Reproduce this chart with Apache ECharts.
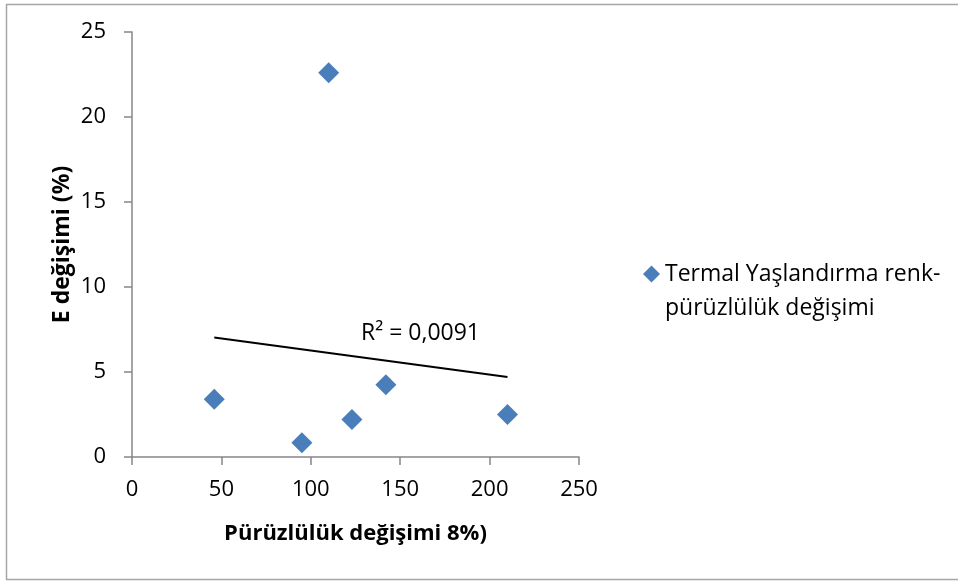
<!DOCTYPE html>
<html><head><meta charset="utf-8">
<script src="https://cdn.jsdelivr.net/npm/echarts@6/dist/echarts.min.js"></script>
<style>html,body{margin:0;padding:0;background:#fff}#c{width:958px;height:583px}</style>
</head><body><div id="c"></div>
<script>
const seriesName = 'Termal Yaşlandırma renk-\npürüzlülük değişimi';
const xValues = [46, 95, 110, 123, 142, 210];
const yValues = [3.4, 0.84, 22.6, 2.2, 4.25, 2.5];
const xTicks = [0, 50, 100, 150, 200, 250];
const yTicks = [0, 5, 10, 15, 20, 25];
const xTitle = 'Pürüzlülük değişimi 8%)';
const yTitle = 'E değişimi (%)';
const r2Label = 'R² = 0,0091';

const pts = xValues.map((x, i) => [x, yValues[i]]);
const n = xValues.length;
const mx = xValues.reduce((a, b) => a + b, 0) / n;
const my = yValues.reduce((a, b) => a + b, 0) / n;
let sxy = 0, sxx = 0;
for (let i = 0; i < n; i++) { sxy += (xValues[i] - mx) * (yValues[i] - my); sxx += (xValues[i] - mx) ** 2; }
const slope = sxy / sxx, icpt = my - slope * mx;
const x0 = Math.min(...xValues), x1 = Math.max(...xValues);
const trend = [[x0, icpt + slope * x0], [x1, icpt + slope * x1]];

const FONT = 'Open Sans';
const axisCol = '#868686';
const chart = echarts.init(document.getElementById('c'), null, { renderer: 'canvas' });
chart.setOption({
  animation: false,
  backgroundColor: '#fff',
  textStyle: { fontFamily: FONT },
  grid: { left: 132, right: 379, top: 32, height: 425, containLabel: false },
  xAxis: {
    type: 'value', min: xTicks[0], max: xTicks[xTicks.length - 1], interval: xTicks[1] - xTicks[0],
    name: xTitle, nameLocation: 'middle', nameGap: 66,
    nameTextStyle: { fontFamily: FONT, fontSize: 22, fontWeight: 'bold', color: '#000' },
    axisLine: { show: true, lineStyle: { color: axisCol, width: 1.5 } },
    axisTick: { show: true, length: 8, lineStyle: { color: axisCol, width: 1.5 } },
    axisLabel: { margin: 22, fontSize: 22, color: '#000', fontFamily: FONT },
    splitLine: { show: false }
  },
  yAxis: {
    type: 'value', min: yTicks[0], max: yTicks[yTicks.length - 1], interval: yTicks[1] - yTicks[0],
    name: yTitle, nameLocation: 'middle', nameGap: 58, nameRotate: 90,
    nameTextStyle: { fontFamily: FONT, fontSize: 23, fontWeight: 'bold', color: '#000' },
    axisLine: { show: true, lineStyle: { color: axisCol, width: 1.5 } },
    axisTick: { show: true, length: 8, lineStyle: { color: axisCol, width: 1.5 } },
    axisLabel: { margin: 26, fontSize: 22, color: '#000', fontFamily: FONT },
    splitLine: { show: false }
  },
  legend: {
    show: true, orient: 'vertical', left: 638, top: 218,
    data: [{ name: seriesName, icon: 'diamond', itemStyle: { color: '#4a7ebb', opacity: 1 } }],
    itemWidth: 17, itemHeight: 17, itemGap: 10,
    formatter: (name) => ' \n' + name,
    textStyle: { fontFamily: FONT, fontSize: 23, color: '#000', lineHeight: 34 }
  },
  series: [
    {
      name: seriesName, type: 'scatter', data: pts, symbol: 'diamond', symbolSize: 21,
      itemStyle: { color: '#4a7ebb', opacity: 1 }, z: 3
    },
    {
      name: 'trend', type: 'line', data: trend, symbol: 'none', silent: true,
      lineStyle: { color: '#000', width: 2 }, z: 2
    }
  ],
  graphic: [
    { type: 'rect', shape: { x: 6.5, y: 4.5, width: 960, height: 575 }, style: { fill: 'none', stroke: '#a6a6a6', lineWidth: 1.5 }, silent: true },
    { type: 'text', x: 361, y: 333, style: { text: r2Label, fontFamily: FONT, fontSize: 23, fill: '#000', textVerticalAlign: 'middle' } }
  ]
});
</script></body></html>
